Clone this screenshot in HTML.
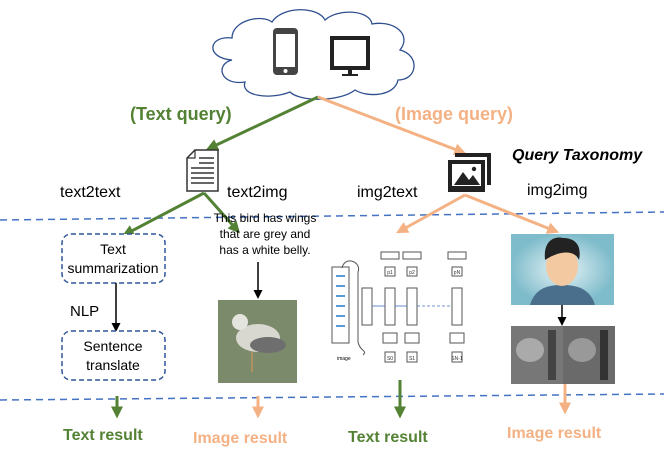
<!DOCTYPE html>
<html><head><style>body{margin:0;background:#fff}svg{display:block}text{font-family:"Liberation Sans",sans-serif}</style></head><body>
<svg width="664" height="453" viewBox="0 0 664 453" xmlns="http://www.w3.org/2000/svg">
<defs>
<marker id="g" markerWidth="4" markerHeight="4" refX="2.5" refY="2" orient="auto" markerUnits="strokeWidth"><path d="M0,0L4,2L0,4z" fill="#548235"/></marker>
<marker id="o" markerWidth="4" markerHeight="4" refX="2.5" refY="2" orient="auto" markerUnits="strokeWidth"><path d="M0,0L4,2L0,4z" fill="#f4b183"/></marker>
<marker id="k" markerWidth="6" markerHeight="6" refX="4" refY="3" orient="auto" markerUnits="strokeWidth"><path d="M0,0L6,3L0,6z" fill="#000"/></marker>
<radialGradient id="fg"><stop offset="0" stop-color="#e8f4f7"/><stop offset="1" stop-color="#7fbccb"/></radialGradient>
</defs>
<path d="M232,60 C205,58 208,35 232,38 C232,20 262,14 272,22 C282,6 318,6 325,20 C338,8 370,10 372,24 C395,20 412,35 400,50 C420,55 418,80 398,80 C395,96 368,98 355,90 C340,102 300,102 290,92 C270,100 240,96 245,82 C220,86 215,64 232,60 Z" fill="#fff" stroke="#2f4f8f" stroke-width="1.3"/>
<rect x="273" y="28" width="25" height="47" rx="4" fill="#444"/>
<rect x="276" y="34" width="19" height="33" fill="#fff"/>
<circle cx="285.5" cy="71" r="2" fill="#fff"/>
<rect x="330" y="36" width="40" height="34" fill="#222"/>
<rect x="334" y="40" width="32" height="26" fill="#fff"/>
<rect x="348" y="70" width="4" height="4" fill="#222"/><rect x="342" y="74" width="16" height="2" fill="#222"/>
<line x1="318" y1="97" x2="210" y2="148" stroke="#548235" stroke-width="3" marker-end="url(#g)"/>
<line x1="318" y1="97" x2="462" y2="152" stroke="#f4b183" stroke-width="3" marker-end="url(#o)"/>
<text x="130" y="120" font-size="18" font-weight="bold" fill="#548235">(Text query)</text>
<text x="395" y="120" font-size="18" font-weight="bold" fill="#f4b183">(Image query)</text>
<text x="512" y="160" font-size="16" font-weight="bold" font-style="italic">Query Taxonomy</text>
<path d="M195,150 L218,150 L218,191 L187,191 L187,158 Z" fill="#fff" stroke="#333" stroke-width="1.5"/>
<path d="M187,158 L195,158 L195,150" fill="none" stroke="#333" stroke-width="1.2"/>
<g stroke="#333" stroke-width="1.5"><line x1="199" y1="158" x2="214" y2="158"/><line x1="199" y1="163" x2="214" y2="163"/><line x1="191" y1="168" x2="214" y2="168"/><line x1="191" y1="173" x2="214" y2="173"/><line x1="191" y1="178" x2="214" y2="178"/><line x1="191" y1="183" x2="214" y2="183"/></g>
<rect x="455" y="153" width="36" height="32" fill="#222"/>
<rect x="451" y="157" width="36" height="32" fill="#fff"/>
<rect x="448" y="160" width="37" height="32" fill="#222"/>
<rect x="452" y="164" width="29" height="22" fill="#fff"/>
<path d="M454,185 L463,172 L469,180 L473,175 L480,185Z" fill="#222"/>
<circle cx="474" cy="169" r="2.2" fill="#222"/>
<text x="60" y="197" font-size="16">text2text</text>
<text x="227" y="197" font-size="16">text2img</text>
<text x="357" y="197" font-size="16">img2text</text>
<text x="527" y="195" font-size="16">img2img</text>
<line x1="0" y1="220" x2="664" y2="212" stroke="#4472c4" stroke-width="1.5" stroke-dasharray="7,5"/>
<line x1="0" y1="400" x2="664" y2="394" stroke="#4472c4" stroke-width="1.5" stroke-dasharray="7,5"/>
<line x1="204" y1="193" x2="126" y2="234" stroke="#548235" stroke-width="3" marker-end="url(#g)"/>
<line x1="204" y1="193" x2="237" y2="230" stroke="#548235" stroke-width="3" marker-end="url(#g)"/>
<line x1="465" y1="195" x2="400" y2="231" stroke="#f4b183" stroke-width="3" marker-end="url(#o)"/>
<line x1="465" y1="195" x2="555" y2="231" stroke="#f4b183" stroke-width="3" marker-end="url(#o)"/>
<rect x="62" y="234" width="103" height="49" rx="9" fill="#fff" stroke="#2f5597" stroke-width="1.5" stroke-dasharray="5,3"/>
<text x="113" y="254" font-size="14" text-anchor="middle">Text</text>
<text x="113" y="273" font-size="14" text-anchor="middle">summarization</text>
<line x1="116" y1="283" x2="116" y2="329" stroke="#000" stroke-width="1.5" marker-end="url(#k)"/>
<text x="70" y="316" font-size="15">NLP</text>
<rect x="62" y="331" width="103" height="49" rx="9" fill="#fff" stroke="#2f5597" stroke-width="1.5" stroke-dasharray="5,3"/>
<text x="113" y="351" font-size="14" text-anchor="middle">Sentence</text>
<text x="113" y="370" font-size="14" text-anchor="middle">translate</text>
<text x="265" y="222" font-size="12" text-anchor="middle">This bird has wings</text>
<text x="265" y="238" font-size="12" text-anchor="middle">that are grey and</text>
<text x="265" y="254" font-size="12" text-anchor="middle">has a white belly.</text>
<line x1="258" y1="262" x2="258" y2="296" stroke="#000" stroke-width="1.5" marker-end="url(#k)"/>
<rect x="218" y="300" width="79" height="83" fill="#7c8a6c"/>
<ellipse cx="258" cy="338" rx="22" ry="14" fill="#d8d8d0"/>
<ellipse cx="268" cy="345" rx="18" ry="8" fill="#6e6e6e"/>
<circle cx="240" cy="322" r="8" fill="#e4e4de"/>
<line x1="252" y1="352" x2="252" y2="372" stroke="#b09060" stroke-width="2"/>
<g fill="#fff" stroke="#555" stroke-width="1" font-size="6">
<rect x="332" y="267" width="17" height="76"/>
<path d="M342,268 C345,255 362,262 358,272 L358,342 C360,352 368,350 363,355" fill="none"/>
<rect x="362" y="288" width="10" height="37"/>
<rect x="385" y="288" width="10" height="37"/><rect x="407" y="288" width="10" height="37"/><rect x="452" y="288" width="10" height="37"/>
<rect x="381" y="252" width="18" height="7"/><rect x="403" y="252" width="18" height="7"/><rect x="448" y="252" width="18" height="7"/>
<rect x="385" y="267" width="10" height="9"/><rect x="407" y="267" width="10" height="9"/><rect x="452" y="267" width="10" height="9"/>
<rect x="383" y="333" width="14" height="10"/><rect x="405" y="333" width="14" height="10"/><rect x="450" y="333" width="14" height="10"/>
<rect x="385" y="352" width="10" height="10"/><rect x="407" y="352" width="10" height="10"/><rect x="452" y="352" width="10" height="10"/>
</g>
<g font-size="5" fill="#333" text-anchor="middle">
<text x="390" y="274">p1</text><text x="412" y="274">p2</text><text x="457" y="274">pN</text>
<text x="390" y="360">S0</text><text x="412" y="360">S1</text><text x="457" y="360">SN-1</text>
</g>
<g fill="#5b9bd5"><rect x="336" y="275" width="9" height="2"/><rect x="336" y="285" width="9" height="2"/><rect x="336" y="295" width="9" height="2"/><rect x="336" y="305" width="9" height="2"/><rect x="336" y="315" width="9" height="2"/><rect x="336" y="325" width="9" height="2"/></g>
<g stroke="#4472c4" stroke-width="0.8"><line x1="372" y1="306" x2="385" y2="306"/><line x1="395" y1="306" x2="407" y2="306"/><line x1="417" y1="306" x2="452" y2="306" stroke-dasharray="3,2"/></g>
<text x="337" y="360" font-size="5">image</text>
<rect x="511" y="234" width="103" height="71" fill="url(#fg)"/>
<path d="M530,305 C535,288 548,285 562,285 C576,285 590,288 595,305Z" fill="#4a6f8c"/>
<ellipse cx="562" cy="266" rx="16" ry="20" fill="#f2c9a0"/>
<path d="M545,260 C543,240 555,236 563,238 C575,238 582,245 579,260 C575,250 560,250 545,260Z" fill="#222"/>
<line x1="562" y1="305" x2="562" y2="323" stroke="#000" stroke-width="1.5" marker-end="url(#k)"/>
<rect x="511" y="326" width="52" height="58" fill="#777"/>
<rect x="563" y="326" width="52" height="58" fill="#6a6a6a"/>
<ellipse cx="530" cy="350" rx="14" ry="12" fill="#aaa"/><ellipse cx="582" cy="350" rx="14" ry="12" fill="#999"/>
<rect x="548" y="330" width="8" height="50" fill="#444"/><rect x="600" y="330" width="8" height="50" fill="#333"/>
<line x1="117" y1="396" x2="117" y2="414" stroke="#548235" stroke-width="3" marker-end="url(#g)"/>
<line x1="258" y1="396" x2="258" y2="414" stroke="#f4b183" stroke-width="3" marker-end="url(#o)"/>
<line x1="400" y1="380" x2="400" y2="414" stroke="#548235" stroke-width="3" marker-end="url(#g)"/>
<line x1="565" y1="384" x2="565" y2="410" stroke="#f4b183" stroke-width="3" marker-end="url(#o)"/>
<text x="63" y="440" font-size="16" font-weight="bold" fill="#548235">Text result</text>
<text x="193" y="443" font-size="16" font-weight="bold" fill="#f4b183">Image result</text>
<text x="348" y="442" font-size="16" font-weight="bold" fill="#548235">Text result</text>
<text x="507" y="438" font-size="16" font-weight="bold" fill="#f4b183">Image result</text>
</svg>
</body></html>
